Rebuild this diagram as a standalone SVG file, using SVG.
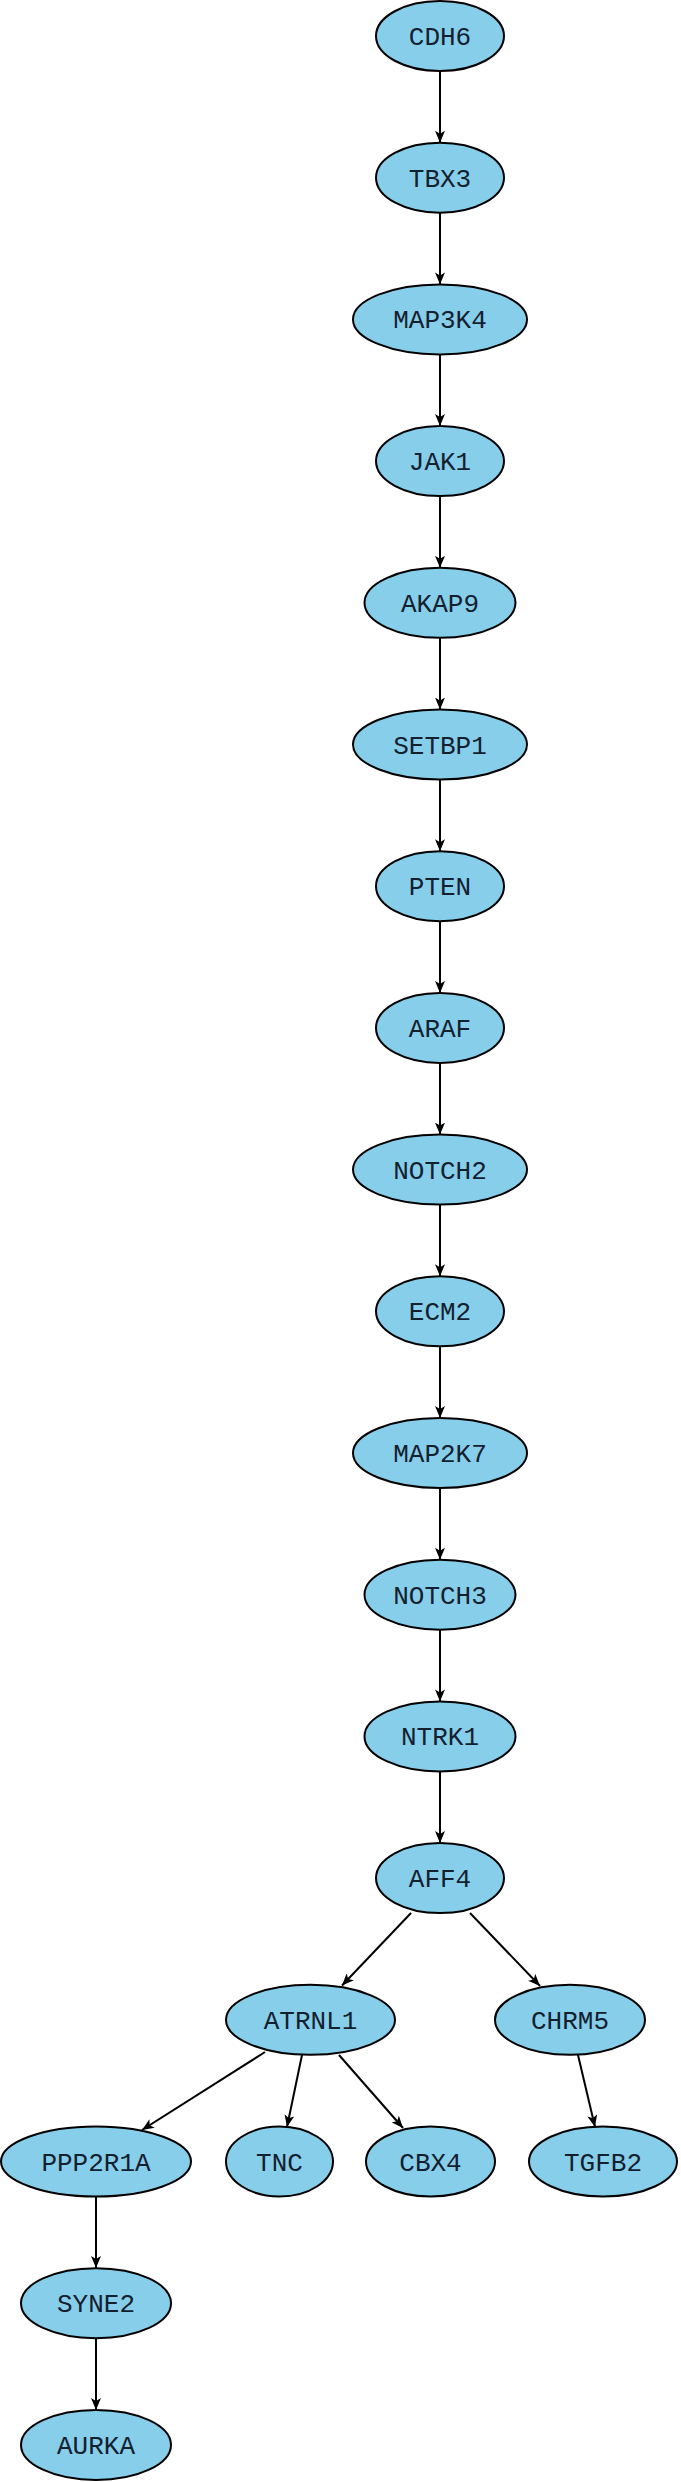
<svg xmlns="http://www.w3.org/2000/svg" width="681" height="2482" viewBox="0 0 681 2482">
<defs>
<marker id="arr" markerUnits="userSpaceOnUse" markerWidth="12" markerHeight="10" refX="12" refY="5" orient="auto">
<path d="M0,0 L12,5 L0,10 L3,5 z" fill="#000"/>
</marker>
<style>
.n ellipse{fill:#87CEEB;stroke:#000;stroke-width:2}
.n text{font-family:"Liberation Mono","Courier New",monospace;font-size:26px;fill:#13202e;text-anchor:middle}
#edges line{stroke:#000;stroke-width:2;marker-end:url(#arr)}
</style>
</defs>
<rect width="681" height="2482" fill="#fff"/>
<g id="edges">
<line x1="440" y1="71" x2="440" y2="142.7"/>
<line x1="440" y1="212.7" x2="440" y2="284.4"/>
<line x1="440" y1="354.4" x2="440" y2="426.1"/>
<line x1="440" y1="496.1" x2="440" y2="567.8"/>
<line x1="440" y1="637.8" x2="440" y2="709.5"/>
<line x1="440" y1="779.5" x2="440" y2="851.2"/>
<line x1="440" y1="921.2" x2="440" y2="992.9"/>
<line x1="440" y1="1062.9" x2="440" y2="1134.6"/>
<line x1="440" y1="1204.6" x2="440" y2="1276.3"/>
<line x1="440" y1="1346.3" x2="440" y2="1418"/>
<line x1="440" y1="1488" x2="440" y2="1559.7"/>
<line x1="440" y1="1629.7" x2="440" y2="1701.4"/>
<line x1="440" y1="1771.4" x2="440" y2="1843.1"/>
<line x1="411" y1="1913" x2="342" y2="1985.5"/>
<line x1="470" y1="1913" x2="540" y2="1986"/>
<line x1="265" y1="2052" x2="142" y2="2130"/>
<line x1="302" y1="2055" x2="287" y2="2127"/>
<line x1="339" y1="2055" x2="403" y2="2128"/>
<line x1="578" y1="2055" x2="595" y2="2127"/>
<line x1="96" y1="2197" x2="96" y2="2268"/>
<line x1="96" y1="2338" x2="96" y2="2410"/>
</g>
<g id="CDH6" class="n"><ellipse cx="440" cy="36" rx="64" ry="35"/><text x="440" y="45">CDH6</text></g>
<g id="TBX3" class="n"><ellipse cx="440" cy="177.7" rx="64" ry="35"/><text x="440" y="186.7">TBX3</text></g>
<g id="MAP3K4" class="n"><ellipse cx="440" cy="319.4" rx="87" ry="35"/><text x="440" y="328.4">MAP3K4</text></g>
<g id="JAK1" class="n"><ellipse cx="440" cy="461.1" rx="64" ry="35"/><text x="440" y="470.1">JAK1</text></g>
<g id="AKAP9" class="n"><ellipse cx="440" cy="602.8" rx="75.5" ry="35"/><text x="440" y="611.8">AKAP9</text></g>
<g id="SETBP1" class="n"><ellipse cx="440" cy="744.5" rx="87" ry="35"/><text x="440" y="753.5">SETBP1</text></g>
<g id="PTEN" class="n"><ellipse cx="440" cy="886.2" rx="64" ry="35"/><text x="440" y="895.2">PTEN</text></g>
<g id="ARAF" class="n"><ellipse cx="440" cy="1027.9" rx="64" ry="35"/><text x="440" y="1036.9">ARAF</text></g>
<g id="NOTCH2" class="n"><ellipse cx="440" cy="1169.6" rx="87" ry="35"/><text x="440" y="1178.6">NOTCH2</text></g>
<g id="ECM2" class="n"><ellipse cx="440" cy="1311.3" rx="64" ry="35"/><text x="440" y="1320.3">ECM2</text></g>
<g id="MAP2K7" class="n"><ellipse cx="440" cy="1453" rx="87" ry="35"/><text x="440" y="1462">MAP2K7</text></g>
<g id="NOTCH3" class="n"><ellipse cx="440" cy="1594.7" rx="75.5" ry="35"/><text x="440" y="1603.7">NOTCH3</text></g>
<g id="NTRK1" class="n"><ellipse cx="440" cy="1736.4" rx="75.5" ry="35"/><text x="440" y="1745.4">NTRK1</text></g>
<g id="AFF4" class="n"><ellipse cx="440" cy="1878.1" rx="64" ry="35"/><text x="440" y="1887.1">AFF4</text></g>
<g id="ATRNL1" class="n"><ellipse cx="310.5" cy="2019.8" rx="84.5" ry="35"/><text x="310.5" y="2028.8">ATRNL1</text></g>
<g id="CHRM5" class="n"><ellipse cx="570" cy="2019.8" rx="75" ry="35"/><text x="570" y="2028.8">CHRM5</text></g>
<g id="PPP2R1A" class="n"><ellipse cx="96" cy="2161.5" rx="95" ry="35"/><text x="96" y="2170.5">PPP2R1A</text></g>
<g id="TNC" class="n"><ellipse cx="279.5" cy="2161.5" rx="53.5" ry="35"/><text x="279.5" y="2170.5">TNC</text></g>
<g id="CBX4" class="n"><ellipse cx="430.5" cy="2161.5" rx="64.5" ry="35"/><text x="430.5" y="2170.5">CBX4</text></g>
<g id="TGFB2" class="n"><ellipse cx="603" cy="2161.5" rx="74" ry="35"/><text x="603" y="2170.5">TGFB2</text></g>
<g id="SYNE2" class="n"><ellipse cx="96" cy="2303.2" rx="75" ry="35"/><text x="96" y="2312.2">SYNE2</text></g>
<g id="AURKA" class="n"><ellipse cx="96" cy="2444.9" rx="75" ry="35"/><text x="96" y="2453.9">AURKA</text></g>
</svg>
